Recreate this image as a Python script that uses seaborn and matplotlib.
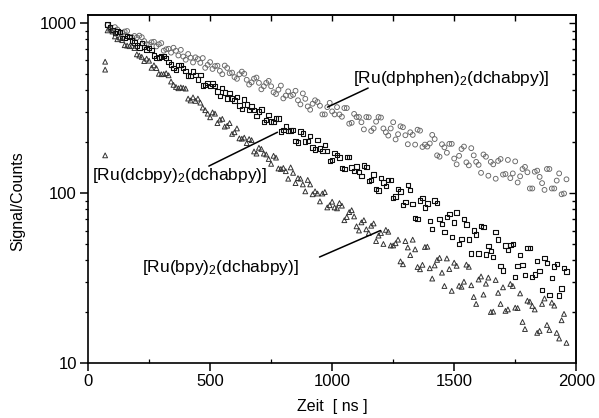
import numpy as np
import pandas as pd
import matplotlib
matplotlib.use("Agg")
import matplotlib.pyplot as plt
import seaborn as sns

# Messzeitraster [ns], zwei versetzte Kanaele
zeit = np.arange(80, 1961, 20)
zeit_2 = np.arange(90, 1951, 20)

# [Ru(dphphen)2(dchabpy)] - Kreise
dphphen = [969, 899, 913, 873, 894, 822, 818, 822, 748, 768,
           726, 759, 698, 667, 684, 693, 606, 623, 626, 581,
           543, 587, 556, 521, 560, 505, 479, 498, 501, 433,
           469, 443, 423, 455, 390, 404, 359, 395, 377, 350,
           384, 322, 334, 342, 289, 319, 301, 319, 280, 315,
           258, 279, 260, 279, 231, 262, 277, 227, 239, 206,
           246, 218, 227, 192, 232, 192, 195, 207, 163, 185,
           194, 159, 165, 187, 145, 166, 146, 168, 126, 147,
           154, 128, 156, 130, 115, 138, 132, 106, 135, 114,
           138, 106, 118, 98, 120]
dphphen_2 = [929, 942, 875, 888, 824, 836, 840, 780, 746, 773,
             747, 685, 703, 713, 642, 633, 655, 584, 612, 620,
             565, 535, 559, 498, 542, 509, 468, 516, 462, 446,
             476, 406, 443, 423, 381, 427, 373, 371, 398, 331,
             357, 308, 350, 325, 289, 338, 289, 289, 315, 255,
             291, 279, 236, 278, 239, 279, 239, 217, 260, 221,
             243, 193, 219, 235, 186, 187, 219, 166, 193, 172,
             194, 147, 181, 151, 183, 152, 131, 163, 152, 121,
             158, 129, 122, 153, 125, 142, 106, 133, 124, 104,
             138, 106, 130, 99]

# [Ru(dcbpy)2(dchabpy)] - Quadrate
dcbpy = [979, 906, 890, 815, 833, 787, 735, 759, 696, 690,
         618, 633, 622, 569, 526, 566, 519, 485, 492, 492,
         429, 426, 426, 371, 388, 385, 349, 326, 353, 308,
         306, 301, 261, 287, 260, 274, 234, 230, 234, 198,
         223, 202, 185, 204, 176, 176, 156, 167, 140, 162,
         141, 143, 126, 142, 119, 105, 122, 110, 119, 95,
         102, 88, 104, 71, 90, 82, 68, 90, 70, 59,
         75, 67, 50, 70, 53, 60, 44, 63, 48.5, 42,
         53, 35, 46, 50, 37, 37.6, 47.5, 32, 39.7, 26.8,
         38.6, 31.5, 38, 27.3, 34.5]
dcbpy_2 = [941, 871, 882, 816, 826, 764, 714, 723, 710, 643,
           626, 640, 586, 542, 565, 540, 489, 516, 464, 428,
           442, 439, 394, 414, 358, 359, 366, 312, 330, 321,
           282, 309, 267, 263, 273, 229, 246, 233, 202, 229,
           200, 216, 180, 182, 191, 154, 171, 161, 138, 162,
           134, 132, 145, 117, 128, 103, 115, 119, 93, 105,
           85, 111, 86, 70, 93.5, 86.5, 61, 87, 65.5, 72,
           55, 76.5, 53.6, 65, 44, 56.7, 64, 43.4, 45.3, 58.8,
           37, 49, 49.5, 32, 43, 32.9, 47.4, 33.1, 34.7, 41.3,
           25, 36.9, 24.9, 36]

# [Ru(bpy)2(dchabpy)] - Dreiecke
bpy = [902, 888, 800, 790, 734, 730, 652, 630, 615, 543,
       541, 498, 505, 451, 419, 417, 410, 349, 347, 339,
       306, 278, 292, 269, 245, 257, 227, 209, 211, 207,
       175, 184, 170, 158, 165, 139, 140, 121, 131, 122,
       112, 119, 98, 99, 99, 82, 88.6, 81, 84, 72,
       79, 63.5, 67, 61, 64, 52, 58, 60.5, 49, 50.5,
       39.5, 52, 43, 46.5, 35.5, 48, 36, 37.4, 41.4, 28.3,
       35.6, 38.8, 28.4, 30, 36.7, 24.4, 30.9, 25.2, 31.7, 20,
       25.8, 27.8, 20.6, 28.3, 21, 17.4, 23.2, 21.6, 15, 22.2,
       16.7, 22.6, 15, 17.8, 13.1]
bpy_2 = [922, 831, 819, 738, 728, 710, 641, 595, 598, 562,
         501, 499, 491, 431, 412, 414, 358, 364, 358, 317,
         292, 297, 257, 272, 248, 222, 239, 208, 196, 204,
         170, 181, 168, 148, 161, 138, 134, 141, 114, 121,
         102, 112, 102, 89, 101, 84.5, 82, 87, 69, 77,
         72.6, 60, 69, 58, 66, 56, 50, 59, 49, 53,
         38, 47.7, 53, 36.6, 37.7, 48.2, 31.3, 40.3, 33.9, 41.1,
         26.5, 37.2, 28, 37.8, 28.6, 22.2, 32.2, 29.2, 19.9, 30.7,
         22.2, 20.2, 29.1, 21.1, 25.6, 15.8, 22.9, 20.6, 15.4, 23.9,
         15.6, 21.7, 13.9, 19.4]
bpy_frueh_zeit = [70, 70, 70]
bpy_frueh = [590, 530, 166]

sns.set_theme(style="ticks")
plt.rcParams["font.family"] = ["Liberation Sans", "DejaVu Sans"]
plt.rcParams["mathtext.fontset"] = "custom"
plt.rcParams["mathtext.rm"] = "Liberation Sans"
plt.rcParams["mathtext.default"] = "rm"
for key in ["text.color", "axes.labelcolor", "xtick.color", "ytick.color",
            "xtick.labelcolor", "ytick.labelcolor"]:
    plt.rcParams[key] = "black"

df_a = pd.DataFrame({"Zeit": np.concatenate([zeit, zeit_2]),
                     "Signal": np.concatenate([dphphen, dphphen_2])})
df_b = pd.DataFrame({"Zeit": np.concatenate([zeit, zeit_2]),
                     "Signal": np.concatenate([dcbpy, dcbpy_2])})
df_c = pd.DataFrame({"Zeit": np.concatenate([bpy_frueh_zeit, zeit, zeit_2]),
                     "Signal": np.concatenate([bpy_frueh, bpy, bpy_2])})

fig = plt.figure(figsize=(5.99, 4.18), dpi=100)
ax = fig.add_axes([0.147, 0.132, 0.815, 0.832])

sns.scatterplot(data=df_a, x="Zeit", y="Signal", marker="o", s=12,
                facecolor="none", edgecolor="0.4", linewidth=0.65, ax=ax)
sns.scatterplot(data=df_b, x="Zeit", y="Signal", marker="s", s=10,
                facecolor="none", edgecolor="0.05", linewidth=0.8, ax=ax)
sns.scatterplot(data=df_c, x="Zeit", y="Signal", marker="^", s=12,
                facecolor="none", edgecolor="0.2", linewidth=0.7, ax=ax)

ax.set_yscale("log")
ax.set_xlim(0, 2000)
ax.set_ylim(10, 1110)
ax.set_xticks([0, 500, 1000, 1500, 2000])
ax.set_xticks([250, 750, 1250, 1750], minor=True)
ax.set_yticks([10, 100, 1000])
ax.set_yticklabels(["10", "100", "1000"])
ax.yaxis.set_minor_formatter(matplotlib.ticker.NullFormatter())

for sp in ax.spines.values():
    sp.set_linewidth(1.2)
    sp.set_color("black")
ax.tick_params(which="major", direction="out", length=6, width=1.1,
               labelsize=12, color="black", labelcolor="black", pad=2)
ax.tick_params(which="minor", direction="out", length=2.5, width=0.9, color="black")
ax.tick_params(axis="x", which="minor", direction="in", length=3)

# obere und rechte Achse mit Innenstrichen
top = ax.secondary_xaxis("top")
top.set_xticks([500, 1000, 1500])
top.set_xticks([250, 750, 1250, 1750], minor=True)
top.tick_params(which="both", direction="in", labeltop=False, length=4, width=1.0,
                color="black")
right = ax.secondary_yaxis("right")
right.set_yticks([100, 1000])
right.tick_params(which="both", direction="in", labelright=False, width=1.0,
                  color="black")
right.tick_params(which="major", length=5)
right.tick_params(which="minor", length=3)
right.yaxis.set_minor_formatter(matplotlib.ticker.NullFormatter())

ax.set_xlabel("Zeit  [ ns ]", fontsize=11.5, color="black")
ax.set_ylabel("Signal/Counts", fontsize=11.5, color="black")
ax.xaxis.set_label_coords(0.5, -0.105)
ax.yaxis.set_label_coords(-0.129, 0.464)

lp = dict(arrowstyle="-", color="black", lw=1.1, shrinkA=0, shrinkB=0, patchA=None)
ax.annotate("[Ru(dphphen)$_2$(dchabpy)]", xy=(981, 319), xytext=(1087, 413),
            ha="left", va="bottom", fontsize=12.5, color="black",
            arrowprops=dict(lp, relpos=(0.075, 0.0)))
ax.annotate("[Ru(dcbpy)$_2$(dchabpy)]", xy=(776, 227), xytext=(16, 111),
            ha="left", va="bottom", fontsize=12.5, color="black",
            arrowprops=dict(lp, relpos=(0.667, 1.0)))
ax.annotate("[Ru(bpy)$_2$(dchabpy)]", xy=(1198, 60), xytext=(222, 31.9),
            ha="left", va="bottom", fontsize=12.5, color="black",
            arrowprops=dict(lp, relpos=(1.13, 1.06)))

fig.savefig("out.png", dpi=100)
